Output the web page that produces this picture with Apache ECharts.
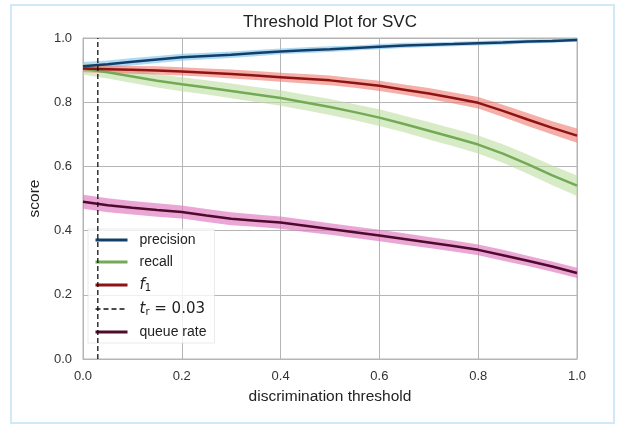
<!DOCTYPE html>
<html>
<head>
<meta charset="utf-8">
<title>Threshold Plot for SVC</title>
<script src="https://cdn.jsdelivr.net/npm/echarts@6/dist/echarts.min.js"></script>
<style>
  html, body { margin: 0; padding: 0; background: #fff; }
  #main { width: 619px; height: 426px; }
</style>
</head>
<body>
<div id="main"></div>
<script>
// discrimination thresholds
const thresholds = [0, 0.05, 0.1, 0.15, 0.2, 0.25, 0.3, 0.35, 0.4, 0.45, 0.5,
  0.55, 0.6, 0.65, 0.7, 0.75, 0.8, 0.85, 0.9, 0.95, 1.0]

// median scores
const precision = [0.912, 0.918, 0.926, 0.933, 0.940, 0.944, 0.948, 0.953, 0.958, 0.962, 0.965,
  0.969, 0.973, 0.977, 0.979, 0.981, 0.984, 0.986, 0.989, 0.991, 0.994]
const recall = [0.904, 0.893, 0.880, 0.867, 0.856, 0.846, 0.835, 0.824, 0.813, 0.799, 0.785,
  0.769, 0.752, 0.732, 0.711, 0.690, 0.668, 0.640, 0.607, 0.572, 0.540]
const f1 = [0.905, 0.903, 0.901, 0.899, 0.896, 0.892, 0.888, 0.883, 0.878, 0.873, 0.868,
  0.860, 0.851, 0.839, 0.827, 0.813, 0.798, 0.773, 0.746, 0.720, 0.696]
const queueRate = [0.490, 0.479, 0.471, 0.464, 0.458, 0.447, 0.437, 0.431, 0.425, 0.415, 0.405,
  0.395, 0.385, 0.374, 0.363, 0.352, 0.340, 0.323, 0.306, 0.288, 0.268]

// half width of the shaded band around each curve
const precisionBand = [0.013, 0.012, 0.012, 0.011, 0.011, 0.010, 0.010, 0.010, 0.009, 0.009, 0.009,
  0.008, 0.008, 0.008, 0.007, 0.007, 0.007, 0.007, 0.006, 0.006, 0.006]
const recallBand = [0.018, 0.019, 0.020, 0.021, 0.022, 0.022, 0.023, 0.023, 0.024, 0.024, 0.025,
  0.025, 0.026, 0.026, 0.027, 0.027, 0.028, 0.029, 0.030, 0.031, 0.032]
const f1Band = [0.012, 0.012, 0.012, 0.013, 0.013, 0.013, 0.014, 0.014, 0.014, 0.015, 0.015,
  0.015, 0.016, 0.016, 0.017, 0.017, 0.018, 0.019, 0.020, 0.021, 0.022]
const queueBand = [0.022, 0.022, 0.021, 0.021, 0.020, 0.020, 0.020, 0.019, 0.019, 0.019, 0.018,
  0.018, 0.018, 0.018, 0.017, 0.017, 0.017, 0.017, 0.016, 0.016, 0.016]

// chosen threshold t_r
const bestThreshold = 0.03

const tickValues = [0, 0.2, 0.4, 0.6, 0.8, 1.0]

const TEXT_FONT = 'Liberation Sans, Arial, sans-serif'

function pairs(ys) {
  return thresholds.map((x, i) => [x, ys[i]])
}

// shaded band as one polygon, points placed with api.coord
function band(ys, hw, color) {
  return {
    type: 'custom', silent: true, z: 1,
    data: thresholds.map((x, i) => [x, ys[i] - hw[i], ys[i] + hw[i]]),
    renderItem: function (params, api) {
      if (params.dataIndex !== 0) return
      const upper = thresholds.map((x, i) => api.coord([x, ys[i] + hw[i]]))
      const lower = thresholds.map((x, i) => api.coord([x, ys[i] - hw[i]])).reverse()
      return {
        type: 'polygon',
        shape: { points: upper.concat(lower) },
        style: { fill: color }
      }
    }
  }
}

function curve(name, ys, color) {
  return {
    name: name, type: 'line', symbol: 'none', z: 3,
    lineStyle: { color: color, width: 2.5 },
    itemStyle: { color: color },
    data: pairs(ys)
  }
}

const myChart = echarts.init(document.getElementById('main'))

const option = {
  animation: false,
  title: {
    text: 'Threshold Plot for SVC',
    left: 330, textAlign: 'center', top: 14, padding: 0,
    textStyle: { fontFamily: TEXT_FONT, fontSize: 17, fontWeight: 'normal', color: '#222' }
  },
  graphic: [
    {
      type: 'rect', silent: true, z: -10,
      shape: { x: 11, y: 5, width: 603, height: 418 },
      style: { fill: 'none', stroke: '#cfe9f8', lineWidth: 2 }
    }
  ],
  grid: {
    left: 83, right: 42, top: 38, bottom: 67,
    show: true, borderColor: '#b5b5b5', borderWidth: 1
  },
  legend: {
    orient: 'vertical',
    left: 88, top: 229,
    padding: [4, 8, 4, 6],
    itemWidth: 32, itemHeight: 16, itemGap: 8,
    backgroundColor: 'rgba(255,255,255,0.8)',
    borderColor: 'rgba(220,220,220,0.6)', borderWidth: 1,
    itemStyle: { opacity: 0 },
    lineStyle: { width: 3 },
    data: [
      { name: 'precision' },
      { name: 'recall' },
      { name: 'f1' },
      { name: 't_r', lineStyle: { width: 1.3 } },
      { name: 'queue rate' }
    ],
    formatter: function (name) {
      if (name === 'f1') return '{it|f}{sub|1}'
      if (name === 't_r') return '{it|t}{sub|r}{m| = 0.03}'
      return '{n|' + name + '}'
    },
    textStyle: {
      padding: [0, 0, 0, 7],
      rich: {
        n: { fontFamily: TEXT_FONT, fontSize: 14, color: '#222', lineHeight: 16 },
        it: { fontFamily: 'DejaVu Sans', fontStyle: 'italic', fontSize: 15, color: '#222', lineHeight: 16 },
        sub: { fontFamily: 'DejaVu Sans', fontSize: 10, color: '#222', lineHeight: 16, verticalAlign: 'bottom', padding: [6, 0, 0, 0] },
        m: { fontFamily: 'DejaVu Sans', fontSize: 15, color: '#222', lineHeight: 16 }
      }
    }
  },
  xAxis: {
    type: 'value', min: 0, max: 1, interval: 0.2,
    name: 'discrimination threshold', nameLocation: 'middle', nameGap: 30,
    nameTextStyle: { fontFamily: TEXT_FONT, fontSize: 15.5, color: '#222' },
    axisLine: { show: true, lineStyle: { color: '#b5b5b5' } },
    axisTick: { show: false },
    axisLabel: {
      margin: 11, fontFamily: TEXT_FONT, fontSize: 13, color: '#333',
      formatter: v => tickValues.includes(+v.toFixed(1)) ? v.toFixed(1) : ''
    },
    splitLine: { show: true, lineStyle: { color: '#b5b5b5', width: 1 } }
  },
  yAxis: {
    type: 'value', min: 0, max: 1, interval: 0.2,
    name: 'score', nameLocation: 'middle', nameGap: 34,
    nameTextStyle: { fontFamily: TEXT_FONT, fontSize: 15.5, color: '#222' },
    axisLine: { show: true, lineStyle: { color: '#b5b5b5' } },
    axisTick: { show: false },
    axisLabel: {
      margin: 11, fontFamily: TEXT_FONT, fontSize: 13, color: '#333',
      formatter: v => v.toFixed(1)
    },
    splitLine: { show: true, lineStyle: { color: '#b5b5b5', width: 1 } }
  },
  series: [
    band(precision, precisionBand, 'rgba(130,196,236,0.65)'),
    band(recall, recallBand, 'rgba(188,222,160,0.6)'),
    band(f1, f1Band, 'rgba(238,120,110,0.6)'),
    band(queueRate, queueBand, 'rgba(222,120,190,0.65)'),
    curve('precision', precision, '#123f69'),
    curve('recall', recall, '#73aa56'),
    curve('f1', f1, '#8e1414'),
    {
      name: 't_r', type: 'line', symbol: 'none', z: 4,
      lineStyle: { color: '#111', width: 1.3, type: [5, 3] },
      itemStyle: { color: '#111' },
      data: [[bestThreshold, 0], [bestThreshold, 1]]
    },
    curve('queue rate', queueRate, '#4f0a2c')
  ]
}

myChart.setOption(option)
</script>
</body>
</html>
